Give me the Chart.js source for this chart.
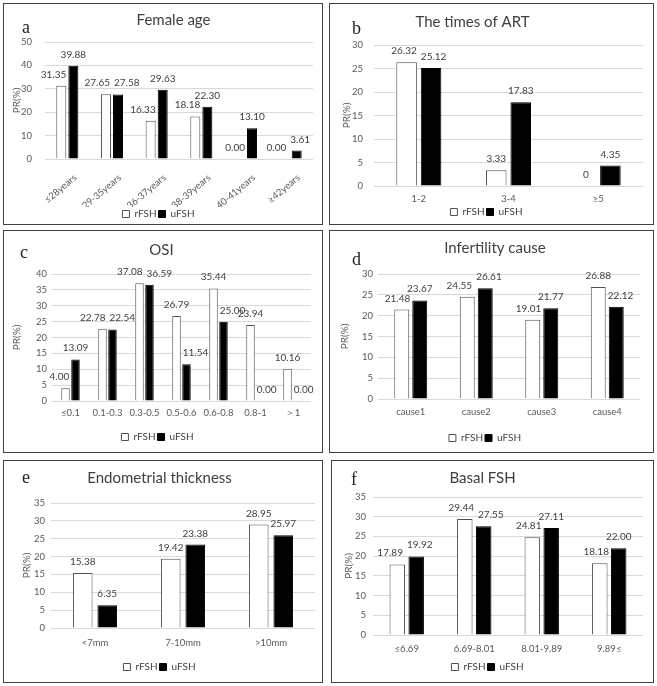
<!DOCTYPE html>
<html><head><meta charset="utf-8">
<script src="https://cdn.jsdelivr.net/npm/chart.js@4.4.1/dist/chart.umd.min.js"></script>
<style>
body{margin:0;background:#fff;width:657px;height:686px;position:relative;overflow:hidden;font-family:Lato}
.panel{position:absolute;border:1px solid #404040;box-sizing:border-box;}
.panel canvas{position:absolute;left:0;top:0}
.letter{position:absolute;font-family:'Liberation Serif',serif;font-size:18px;color:#222;line-height:1}
</style></head>
<body>
<div class="panel" style="left:3px;top:3px;width:320px;height:222px"><canvas id="ca" width="318" height="220"></canvas><span class="letter" style="left:18px;top:14px">a</span></div>
<div class="panel" style="left:329px;top:3px;width:325px;height:222px"><canvas id="cb" width="323" height="220"></canvas><span class="letter" style="left:22px;top:15px">b</span></div>
<div class="panel" style="left:3px;top:230px;width:320px;height:223px"><canvas id="cc" width="318" height="221"></canvas><span class="letter" style="left:16px;top:12px">c</span></div>
<div class="panel" style="left:329px;top:230px;width:325px;height:223px"><canvas id="cd" width="323" height="221"></canvas><span class="letter" style="left:22px;top:19px">d</span></div>
<div class="panel" style="left:3px;top:460px;width:320px;height:223px"><canvas id="ce" width="318" height="221"></canvas><span class="letter" style="left:18px;top:7px">e</span></div>
<div class="panel" style="left:331px;top:460px;width:323px;height:223px"><canvas id="cf" width="321" height="221"></canvas><span class="letter" style="left:19px;top:9px">f</span></div>
<script>
// ---- data ----
const seriesNames = ['rFSH', 'uFSH'];

const ageCats = ['≤28years', '29-35years', '36-37years', '38-39years', '40-41years', '≥42years'];
const ageR = [31.35, 27.65, 16.33, 18.18, 0.00, 0.00];
const ageU = [39.88, 27.58, 29.63, 22.30, 13.10, 3.61];

const artCats = ['1-2', '3-4', '≥5'];
const artR = [26.32, 3.33, 0];
const artU = [25.12, 17.83, 4.35];

const osiCats = ['≤0.1', '0.1-0.3', '0.3-0.5', '0.5-0.6', '0.6-0.8', '0.8-1', '＞1'];
const osiR = [4.00, 22.78, 37.08, 26.79, 35.44, 23.94, 10.16];
const osiU = [13.09, 22.54, 36.59, 11.54, 25.00, 0.00, 0.00];

const causeCats = ['cause1', 'cause2', 'cause3', 'cause4'];
const causeR = [21.48, 24.55, 19.01, 26.88];
const causeU = [23.67, 26.61, 21.77, 22.12];

const endoCats = ['<7mm', '7-10mm', '>10mm'];
const endoR = [15.38, 19.42, 28.95];
const endoU = [6.35, 23.38, 25.97];

const fshCats = ['≤6.69', '6.69-8.01', '8.01-9.89', '9.89≤'];
const fshR = [17.89, 29.44, 24.81, 18.18];
const fshU = [19.92, 27.55, 27.11, 22.00];

const titles = ['Female age', 'The times of ART', 'OSI', 'Infertility cause', 'Endometrial thickness', 'Basal FSH'];
const yTitle = 'PR(%)';

// ---- rendering ----
Chart.defaults.font.family = 'Lato, "Open Sans", sans-serif';
Chart.defaults.color = '#595959';

const valueLabels = {
  id: 'valueLabels',
  afterDatasetsDraw(chart, args, opts) {
    const ctx = chart.ctx;
    ctx.save();
    ctx.font = '10px Lato, sans-serif';
    ctx.fillStyle = '#404040';
    ctx.textAlign = 'center';
    ctx.textBaseline = 'alphabetic';
    const off = 8, gap = 4, th = 9;
    const mR = chart.getDatasetMeta(0), mU = chart.getDatasetMeta(1);
    const dR = chart.data.datasets[0].data, dU = chart.data.datasets[1].data;
    const fmt = opts.fmt || (v => v.toFixed(2));
    mR.data.forEach((bR, i) => {
      const bU = mU.data[i];
      const tR = fmt(dR[i]), tU = fmt(dU[i]);
      const wR = ctx.measureText(tR).width, wU = ctx.measureText(tU).width;
      let xR = bR.x, xU = bU.x;
      const yR = bR.y - off, yU = bU.y - off;
      const uLeft = bU.x - bU.width / 2, rRight = bR.x + bR.width / 2;
      if (yR > bU.y - 1 && xR + wR / 2 > uLeft - 2) xR = uLeft - 2 - wR / 2;
      if (yU > bR.y - 1 && xU - wU / 2 < rRight + 2) xU = rRight + 2 + wU / 2;
      if (Math.abs(yR - yU) < th) {
        const o = (xR + wR / 2 + gap) - (xU - wU / 2);
        if (o > 0) { xR -= o / 2; xU += o / 2; }
      }
      ctx.fillText(tR, xR, yR);
      ctx.fillText(tU, xU, yU);
    });
    ctx.restore();
  }
};

const titleShift = {
  id: 'titleShift',
  afterLayout(chart, args, opts) {
    const t = chart.titleBlock;
    if (t && opts.dx) { t.left += opts.dx; t.right += opts.dx; }
  }
};

function makeChart(id, cats, r, u, title, L) {
  new Chart(document.getElementById(id), {
    type: 'bar',
    data: {
      labels: cats,
      datasets: [
        {label: seriesNames[0], data: r, backgroundColor: '#ffffff', borderColor: '#505050', borderWidth: 1,
         categoryPercentage: L.cp, barPercentage: L.bp},
        {label: seriesNames[1], data: u, backgroundColor: '#000000', borderColor: '#000000', borderWidth: 1,
         categoryPercentage: L.cp, barPercentage: L.bp}
      ]
    },
    options: {
      responsive: false,
      animation: false,
      layout: {padding: {top: 0, left: 0, right: L.padR, bottom: L.padB}},
      plugins: {
        title: {display: true, text: title, color: '#404040',
                font: {size: 15, weight: 'normal'}, padding: {top: L.tT, bottom: L.tB}},
        legend: {position: 'bottom',
                 labels: {boxWidth: 7, boxHeight: 7, padding: 2, color: '#404040', font: {size: 10}}},
        tooltip: {enabled: false},
        valueLabels: {fmt: L.fmt},
        titleShift: {dx: L.tdx}
      },
      scales: {
        x: {
          grid: {display: false, drawTicks: false},
          border: {display: false},
          ticks: {autoSkip: false, padding: L.xTickPad, labelOffset: L.xLabOff || 0,
                  minRotation: L.rot || 0, maxRotation: L.rot || 0,
                  font: {size: L.xFont || 9.5}, color: '#595959'},
          afterFit: s => { s.height = L.xH; }
        },
        y: {
          min: 0, max: L.max,
          grid: {color: '#d9d9d9', drawTicks: false},
          border: {display: false},
          ticks: {stepSize: L.step, padding: L.yTickPad, font: {size: 9.5}, color: '#595959'},
          title: {display: true, text: yTitle, color: '#595959', font: {size: 10}, padding: {top: L.yTitlePad, bottom: 0}},
          afterFit: s => { s.width = L.yW; }
        }
      }
    },
    plugins: [valueLabels, titleShift]
  });
}

makeChart('ca', ageCats, ageR, ageU, titles[0],
  {max: 50, step: 10, yW: 41, xH: 48, padR: 9, padB: -5, tT: 7, tB: 13, yTickPad: 13, yTitlePad: 7, xTickPad: 13, xLabOff: 8, xFont: 9.5, rot: 40, cp: 0.54, bp: 0.83, tdx: 15});
makeChart('cb', artCats, artR, artU, titles[1],
  {max: 30, step: 5, yW: 44, xH: 19, padR: 10, padB: -3, tT: 9, tB: 14, yTickPad: 11, yTitlePad: 11, xTickPad: 7, cp: 0.546, bp: 0.84, tdx: -14,
   fmt: v => v === 0 ? '0' : v.toFixed(2)});
makeChart('cc', osiCats, osiR, osiU, titles[2],
  {max: 40, step: 5, yW: 48, xH: 29, padR: 11, padB: 0, tT: 10, tB: 15, yTickPad: 5, yTitlePad: 7, xTickPad: 6, cp: 0.54, bp: 0.85, tdx: 4});
makeChart('cd', causeCats, causeR, causeU, titles[3],
  {max: 30, step: 5, yW: 48, xH: 32, padR: 13, padB: -1, tT: 8, tB: 17, yTickPad: 5, yTitlePad: 9, xTickPad: 7, cp: 0.55, bp: 0.83, tdx: 10});
makeChart('ce', endoCats, endoR, endoU, titles[4],
  {max: 35, step: 5, yW: 47, xH: 32, padR: 7, padB: 0, tT: 8, tB: 16, yTickPad: 6, yTitlePad: 17, xTickPad: 9, cp: 0.557, bp: 0.8, tdx: 0});
makeChart('cf', fshCats, fshR, fshU, titles[5],
  {max: 35, step: 5, yW: 41, xH: 25, padR: 10, padB: 0, tT: 8, tB: 10, yTickPad: 7, yTitlePad: 11, xTickPad: 8, cp: 0.56, bp: 0.82, tdx: -5});
</script>
</body></html>
